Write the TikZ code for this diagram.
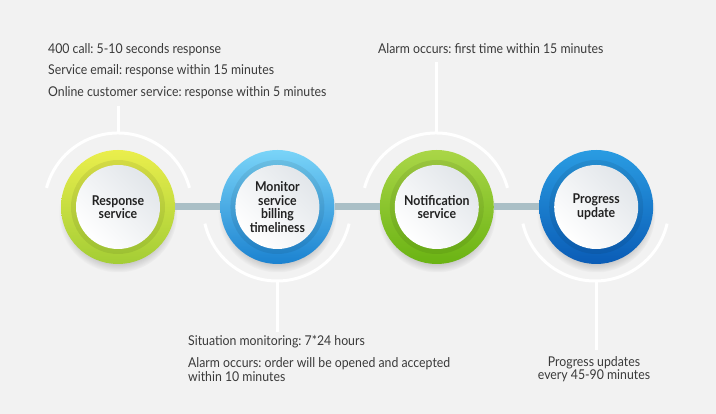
\documentclass[tikz,border=0pt]{standalone}
\usepackage{fontspec}
\setmainfont{Lato}[FakeStretch=0.91]
\frenchspacing
\usetikzlibrary{positioning,shadows}

\definecolor{paper}{HTML}{F2F2F2}
\definecolor{linkgray}{HTML}{AABFC6}
\definecolor{notetxt}{HTML}{3A3A3A}
\definecolor{labeltxt}{HTML}{222222}
\definecolor{discgray}{HTML}{E2E6EA}
\definecolor{limeA}{HTML}{EAEE4C}
\definecolor{limeB}{HTML}{A3CD35}
\definecolor{skyA}{HTML}{7AD4F8}
\definecolor{skyB}{HTML}{1B82D0}
\definecolor{leafA}{HTML}{AAD647}
\definecolor{leafB}{HTML}{6AB313}
\definecolor{navyA}{HTML}{2A9CE2}
\definecolor{navyB}{HTML}{0A5CB6}

\tikzset{
  stage/.style={circle, minimum size=114, inner sep=0, align=center,
    font=\fontsize{13.5}{13.5}\selectfont\bfseries, text=labeltxt, shading angle=-45,
    circular drop shadow={shadow xshift=0pt, shadow yshift=-6pt, shadow scale=1.04, opacity=.35},
    path picture={
      \fill[black, opacity=.07] (path picture bounding box.center) circle (47);
      \shade[top color=discgray, bottom color=white, shading angle=-45]
        (path picture bounding box.center) circle (42);}},
  link/.style={line width=7pt, color=linkgray},
  halo/.style={line width=3pt, white},
  note/.style={font=\fontsize{13.5}{13.5}\selectfont, text=notetxt, inner sep=0}
}

\begin{document}
\begin{tikzpicture}[x=1pt,y=1pt,node distance=45]
  \fill[paper] (0,0) rectangle (716,414);
  \useasboundingbox (0,0) rectangle (716,414);

  % halos behind the stages
  \draw[halo] (118,207) ++(15:74) arc (15:165:74);
  \draw[halo] (277,207) ++(-13:74) arc (-13:-167:74);
  \draw[halo] (436,207) ++(15:74) arc (15:165:74);
  \draw[halo] (595,207) ++(-13:74) arc (-13:-167:74);

  % stages
  \node[stage, top color=limeA, bottom color=limeB] (resp) at (118,207) {Response\\service};
  \node[stage, top color=skyA, bottom color=skyB, right=of resp] (monitor) {Monitor\\service\\billing\\timeliness};
  \node[stage, top color=leafA, bottom color=leafB, right=of monitor] (notify) {Notification\\service};
  \node[stage, top color=navyA, bottom color=navyB, right=of notify] (progress) {Progress\\update};

  \draw[link] (resp) -- (monitor);
  \draw[link] (monitor) -- (notify);
  \draw[link] (notify) -- (progress);

  % stems
  \draw[halo] ([yshift=74]resp.center) -- ([yshift=101]resp.center);
  \draw[halo] ([yshift=74]notify.center) -- ([yshift=145]notify.center);
  \draw[halo] ([yshift=-74]monitor.center) -- ([yshift=-125]monitor.center);
  \draw[halo] ([yshift=-74]progress.center) -- ([yshift=-143]progress.center);

  % notes
  \node[note, anchor=west, align=left, font=\fontsize{13.5}{21.5}\selectfont] (resptxt) at (48,343)
    {400 call: 5-10 seconds response\\Service email: response within 15 minutes\\Online customer service: response within 5 minutes};
  \node[note, anchor=west] (notifytxt) at (378,365) {Alarm occurs: first time within 15 minutes};
  \node[note, anchor=west] (monitortxt) at (188,72) {Situation monitoring: 7*24 hours};
  \node[note, anchor=west, align=left] (monitortxt2) at (188,44.5)
    {Alarm occurs: order will be opened and accepted\\within 10 minutes};
  \node[note, align=center] (progresstxt) at (594,45) {Progress updates\\every 45-90 minutes};
\end{tikzpicture}
\end{document}
